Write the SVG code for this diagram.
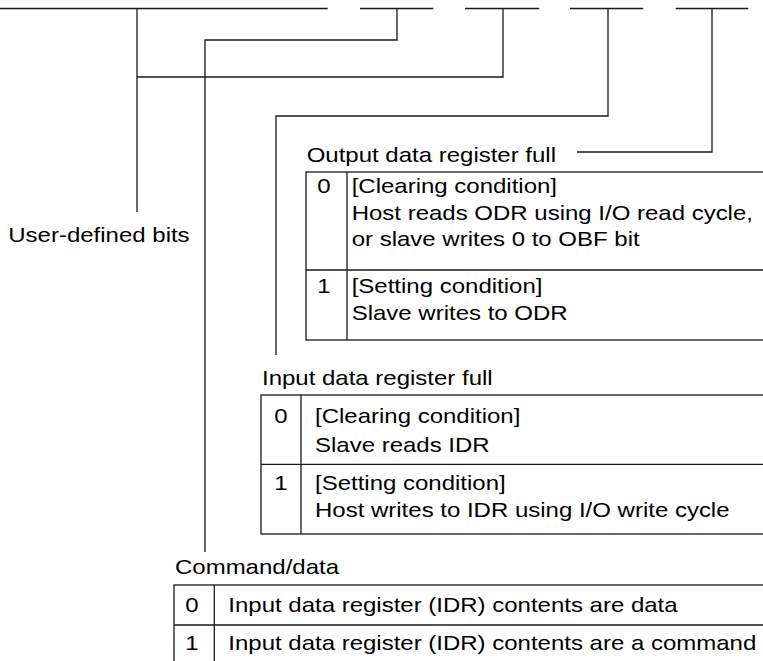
<svg xmlns="http://www.w3.org/2000/svg" width="763" height="661" viewBox="0 0 763 661">
<style>
.ln{stroke:#1a1a1a;stroke-width:1.3;fill:none}
.bx{stroke:#1a1a1a;stroke-width:1.3;fill:none}
.t{font-family:"Liberation Sans",Arial,Helvetica,sans-serif;font-size:20px;fill:#000}
.c{text-anchor:middle}
</style>
<rect width="763" height="661" fill="#fff"/>
<g id="register-bits">
<line class="ln" x1="0" y1="8.5" x2="327.7" y2="8.5"/>
<line class="ln" x1="360" y1="8.5" x2="433.3" y2="8.5"/>
<line class="ln" x1="465" y1="8.5" x2="539.3" y2="8.5"/>
<line class="ln" x1="570" y1="8.5" x2="643.3" y2="8.5"/>
<line class="ln" x1="675.7" y1="8.5" x2="748.3" y2="8.5"/>
</g>
<g id="connectors">
<polyline class="ln" points="137,8.5 137,212"/>
<polyline class="ln" points="503,8.5 503,77 137,77"/>
<polyline class="ln" points="397,8.5 397,40 205,40 205,552"/>
<polyline class="ln" points="608,8.5 608,116 276,116 276,355"/>
<polyline class="ln" points="712,8.5 712,152 577,152"/>
</g>
<g id="user-defined">
<text class="t" transform="translate(8.3 241.7) scale(1.2 1)">User-defined bits</text>
</g>
<g id="obf">
<text class="t" transform="translate(306.7 162) scale(1.2 1)">Output data register full</text>
<rect class="bx" x="306" y="172" width="460" height="168"/>
<line class="ln" x1="347" y1="172" x2="347" y2="340"/>
<line class="ln" x1="306" y1="270" x2="766" y2="270"/>
<text class="t c" transform="translate(324 193.3) scale(1.2 1)">0</text>
<text class="t" transform="translate(351.7 193.3) scale(1.2 1)">[Clearing condition]</text>
<text class="t" transform="translate(351.7 220) scale(1.2 1)">Host reads ODR using I/O read cycle,</text>
<text class="t" transform="translate(351.7 246) scale(1.2 1)">or slave writes 0 to OBF bit</text>
<text class="t c" transform="translate(324 293) scale(1.2 1)">1</text>
<text class="t" transform="translate(351.7 293) scale(1.2 1)">[Setting condition]</text>
<text class="t" transform="translate(351.7 320) scale(1.2 1)">Slave writes to ODR</text>
</g>
<g id="ibf">
<text class="t" transform="translate(262 385) scale(1.2 1)">Input data register full</text>
<rect class="bx" x="261" y="395" width="505" height="139"/>
<line class="ln" x1="301" y1="395" x2="301" y2="534"/>
<line class="ln" x1="261" y1="464.3" x2="766" y2="464.3"/>
<text class="t c" transform="translate(281 423.3) scale(1.2 1)">0</text>
<text class="t" transform="translate(315 423.3) scale(1.2 1)">[Clearing condition]</text>
<text class="t" transform="translate(315 451.7) scale(1.2 1)">Slave reads IDR</text>
<text class="t c" transform="translate(281 490) scale(1.2 1)">1</text>
<text class="t" transform="translate(315 490) scale(1.2 1)">[Setting condition]</text>
<text class="t" transform="translate(315 516.7) scale(1.2 1)">Host writes to IDR using I/O write cycle</text>
</g>
<g id="cd">
<text class="t" transform="translate(175 574) scale(1.2 1)">Command/data</text>
<rect class="bx" x="174" y="585" width="592" height="80"/>
<line class="ln" x1="214.3" y1="585" x2="214.3" y2="665"/>
<line class="ln" x1="174" y1="625" x2="766" y2="625"/>
<text class="t c" transform="translate(192 611.7) scale(1.2 1)">0</text>
<text class="t" transform="translate(228.3 611.7) scale(1.2 1)">Input data register (IDR) contents are data</text>
<text class="t c" transform="translate(192 650) scale(1.2 1)">1</text>
<text class="t" transform="translate(228.3 650) scale(1.2 1)">Input data register (IDR) contents are a command</text>
</g>
</svg>
